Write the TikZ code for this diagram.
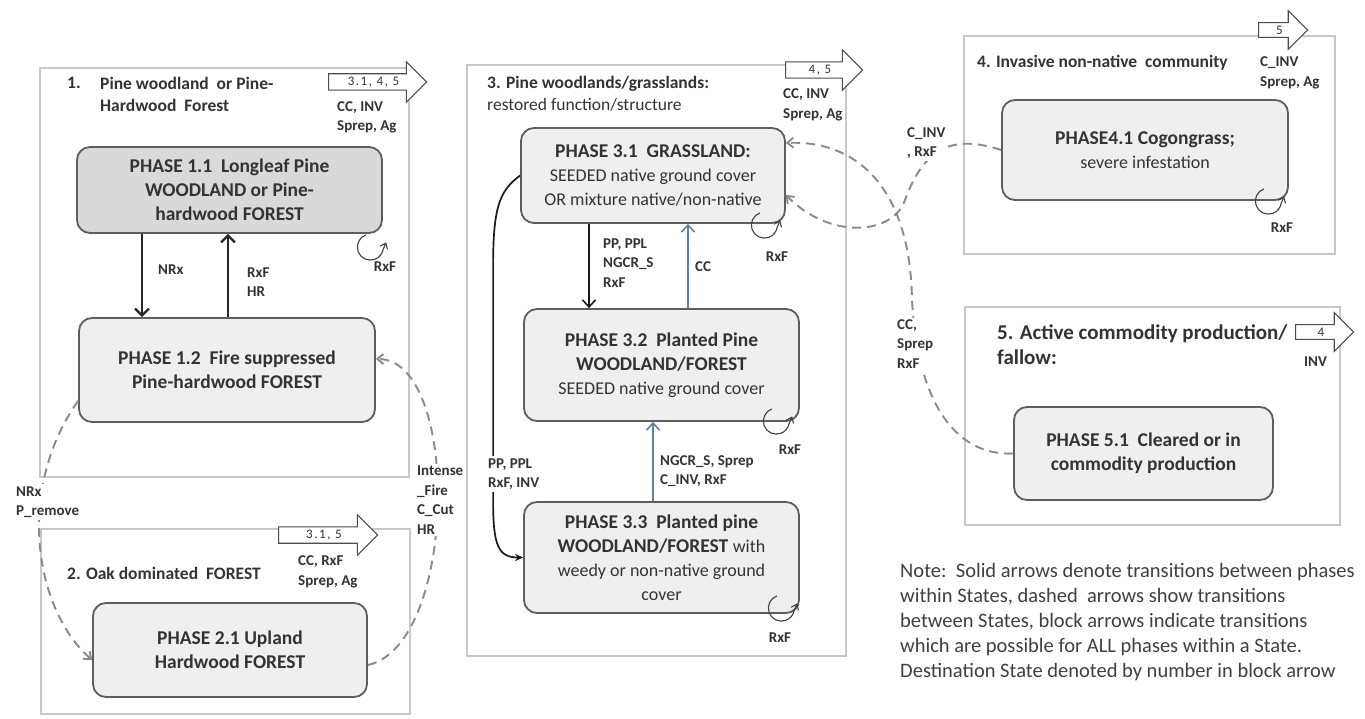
\documentclass[tikz,border=0pt]{standalone}
\usepackage{fontspec}
\setmainfont{Carlito}
\usetikzlibrary{arrows.meta, positioning, shapes.arrows}

\definecolor{txt}{HTML}{333333}
\definecolor{edge}{HTML}{5E5E5E}
\definecolor{pfill}{HTML}{EFEFEF}
\definecolor{pdark}{HTML}{D9D9D9}
\definecolor{sline}{HTML}{C8C8C8}
\definecolor{steel}{HTML}{5F7FA3}
\definecolor{dashgray}{HTML}{8A8A8A}

\newcommand{\fsz}[2]{\fontsize{#1}{#2}\selectfont}
\newcommand{\subtxt}[1]{{\mdseries\fsz{18}{24}#1}}

\begin{document}
\begin{tikzpicture}[x=1pt, y=-1pt,
  phase/.style={draw=edge, line width=1.8pt, rounded corners=13pt, fill=pfill, align=center, text=txt, font=\fsz{19.5}{24}\bfseries, inner sep=2pt},
  statebox/.style={draw=sline, line width=1.4pt},
  stitle/.style={anchor=west, align=left, text=txt, font=\fsz{17.5}{22}\bfseries, inner sep=0pt},
  lbl/.style={anchor=west, align=left, text=txt, font=\fsz{15}{19.5}\bfseries, inner sep=0pt},
  cutlbl/.style={lbl, fill=white, inner sep=2pt},
  blockarr/.style={single arrow, draw=black!70, fill=white, line width=1.1pt, single arrow head extend=12pt, inner xsep=2pt, inner ysep=2.6pt, text=txt, font=\fsz{13}{13}\addfontfeature{LetterSpace=12}, anchor=tail},
  arr/.style={-{Straight Barb[length=7pt, width=14pt]}, line width=2.2pt, draw=black!85},
  thinarr/.style={-{Straight Barb[length=7pt, width=13pt]}, line width=1.6pt},
  curvearr/.style={-{Stealth[length=8pt, width=7pt]}, line width=1.7pt, draw=black!90},
  darr/.style={-{Straight Barb[length=6pt, width=10pt]}, dash pattern=on 9pt off 6pt, line width=1.9pt, draw=dashgray},
  selfloop/.style={-{Straight Barb[length=5pt, width=8pt]}, line width=1.1pt, draw=black!75},
]
\fill[white] (0,0) rectangle (1365,719);
\useasboundingbox (0,0) rectangle (1365,719);

% State frames
\draw[statebox] (40,68) rectangle (409,477);
\draw[statebox] (41,529) rectangle (410,714);
\draw[statebox] (467,65) rectangle (846,656);
\draw[statebox] (964,36) rectangle (1335,254);
\draw[statebox] (965,307) rectangle (1340,525);

% State titles
\node[stitle] (t1num) at (67,83) {1.};
\node[stitle] (t1) at (100,94) {Pine woodland\ \ or Pine-\\Hardwood\ \ Forest};
\node[stitle] (t2) at (67,573) {2. Oak dominated\ \ FOREST};
\node[stitle] (t3) at (487,94) {3. Pine woodlands/grasslands:\\{\mdseries restored function/structure}};
\node[stitle] (t4) at (977,63) {4. Invasive non-native\ \ community};
\node[stitle, font=\fsz{21}{25}\bfseries] (t5) at (997,345) {5. Active commodity production/\\fallow:};

% Phases
\node[phase, fill=pdark, minimum width=305pt, minimum height=86pt] (p11) at (229.5,190) {PHASE 1.1\ \ Longleaf Pine\\WOODLAND or Pine-\\hardwood FOREST};
\node[phase, minimum width=296pt, minimum height=104pt] (p12) at (227,370) {PHASE 1.2\ \ Fire suppressed\\Pine-hardwood FOREST};
\node[phase, minimum width=274pt, minimum height=94pt] (p21) at (230,650) {PHASE 2.1 Upland\\Hardwood FOREST};
\node[phase, minimum width=264pt, minimum height=95pt] (p31) at (653,175.5) {PHASE 3.1\ \ GRASSLAND:\\\subtxt{SEEDED native ground cover}\\\subtxt{OR mixture native/non-native}};
\node[phase, minimum width=275pt, minimum height=112pt] (p32) at (661.5,365) {PHASE 3.2\ \ Planted Pine\\WOODLAND/FOREST\\\subtxt{SEEDED native ground cover}};
\node[phase, minimum width=275pt, minimum height=111pt] (p33) at (661.5,557.5) {PHASE 3.3\ \ Planted pine\\WOODLAND/FOREST \subtxt{with}\\\subtxt{weedy or non-native ground}\\\subtxt{cover}};
\node[phase, minimum width=286pt, minimum height=100pt] (p41) at (1145,150) {PHASE4.1 Cogongrass;\\\subtxt{severe infestation}};
\node[phase, minimum width=259pt, minimum height=93pt] (p51) at (1143.5,453.5) {PHASE 5.1\ \ Cleared or in\\commodity production};

% Transitions inside states
\draw[arr] ([xshift=-87.5pt]p11.south) -- ([xshift=-85pt]p12.north);
\draw[arr] ([xshift=1pt]p12.north) -- ([xshift=-1.5pt]p11.south);
\node[lbl] (nrx) at (158,270) {NRx};
\node[lbl] (rxfhr) at (247,282) {RxF\\HR};

\draw[thinarr, draw=black!90] ([xshift=-64pt]p31.south) -- ([xshift=-72.5pt]p32.north);
\draw[thinarr, draw=steel] ([xshift=26.5pt]p32.north) -- ([xshift=35pt]p31.south);
\draw[thinarr, draw=steel] ([xshift=-8.5pt]p33.north) -- ([xshift=-8.5pt]p32.south);
\node[lbl] (pp1) at (603,263) {PP, PPL\\NGCR\_S\\RxF};
\node[lbl] (cc1) at (695,267) {CC};
\node[lbl] (ngcr) at (660,471) {NGCR\_S, Sprep\\C\_INV, RxF};

\draw[curvearr] (p31.west) .. controls +(-20,15) and +(0,-60) .. ++(-27,90) -- ++(0,235) .. controls +(0,45) and +(-25,0) .. (p33.west);
\node[cutlbl] (pp2) at (486,474) {PP, PPL\\RxF, INV};

% Self loops
\draw[selfloop] ([shift={(-17pt,-1pt)}]p11.south east) arc[start angle=110, end angle=350, radius=13pt] -- ++(3pt,7pt);
\draw[selfloop] ([shift={(-26pt,11pt)}]p31.south east) arc[start angle=110, end angle=350, radius=13pt] -- ++(3pt,7pt);
\draw[selfloop] ([shift={(-28pt,13pt)}]p32.south east) arc[start angle=110, end angle=350, radius=13pt] -- ++(3pt,7pt);
\draw[selfloop] ([shift={(-23pt,18pt)}]p33.south east) arc[start angle=110, end angle=350, radius=13pt] -- ++(3pt,7pt);
\draw[selfloop] ([shift={(-25pt,12pt)}]p41.south east) arc[start angle=110, end angle=350, radius=13pt] -- ++(3pt,7pt);
\node[lbl, anchor=center] (r11) at (385,267) {RxF};
\node[lbl, anchor=center] (r31) at (777,257) {RxF};
\node[lbl, anchor=center] (r32) at (790,450) {RxF};
\node[lbl, anchor=center] (r33) at (780,638) {RxF};
\node[lbl, anchor=center] (r41) at (1282,228) {RxF};

% Transitions between states
\draw[darr] ([yshift=22pt]p12.south west) .. controls (15,490) and (35,610) .. ([yshift=-10pt]p21.west);
\node[cutlbl] (nrxp) at (14,502) {NRx\\P\_remove};
\draw[darr] ([yshift=-15pt]p21.east) .. controls +(90,-20) and +(85,0) .. ([yshift=11pt]p12.east);
\node[cutlbl] (fire) at (415,500) {Intense\\\_Fire\\C\_Cut\\HR};
\draw[darr] (p41.west) .. controls (955,135) and (925,145) .. (905,200) .. controls (893,235) and (830,240) .. ([yshift=-19.5pt]p31.east);
\node[cutlbl] (cinv) at (905,143) {C\_INV\\, RxF};
\draw[darr] (p51.west) .. controls (960,456) and (918,410) .. (912,300) .. controls (910,180) and (850,140) .. ([yshift=32.5pt]p31.east);
\node[cutlbl] (ccsp) at (895,344) {CC,\\Sprep\\RxF};

% Block arrows for whole states
\node[blockarr, minimum height=98pt] (a1) at (328,82) {3.1, 4, 5};
\node[lbl] (l1) at (337,117.5) {CC, INV\\Sprep, Ag};
\node[blockarr, minimum height=99pt] (a2) at (278,535) {3.1, 5};
\node[lbl] (l2) at (298,572) {CC, RxF\\Sprep, Ag};
\node[blockarr, minimum height=77pt] (a3) at (785,70) {4, 5};
\node[lbl] (l3) at (783,105) {CC, INV\\Sprep, Ag};
\node[blockarr, minimum height=49pt] (a4) at (1258,30) {5};
\node[lbl] (l4) at (1260,73) {C\_INV\\Sprep, Ag};
\node[blockarr, minimum height=58pt] (a5) at (1295,332) {4};
\node[lbl] (l5) at (1304,362) {INV};

% Note
\node[anchor=west, align=left, text=black!75, font=\fsz{20.5}{25}, inner sep=0pt] (note) at (900,622) {Note:\ \ Solid arrows denote transitions between phases\\within States, dashed\ \ arrows show transitions\\between States, block arrows indicate transitions\\which are possible for ALL phases within a State.\\Destination State denoted by number in block arrow};
\end{tikzpicture}
\end{document}
